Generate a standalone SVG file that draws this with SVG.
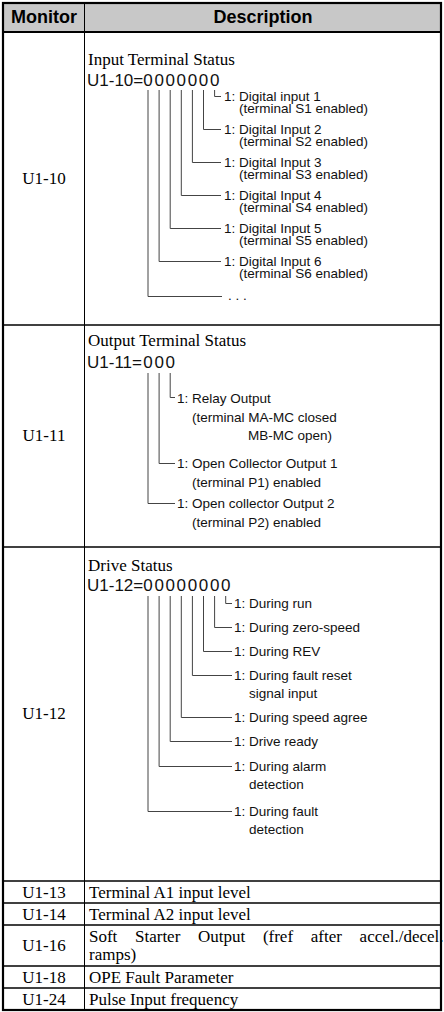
<svg xmlns="http://www.w3.org/2000/svg" width="444" height="1012" viewBox="0 0 444 1012">
<style>
.hd{font-family:"Liberation Sans",Arial,sans-serif;font-weight:bold;font-size:18px;text-anchor:middle;fill:#000}
.mon{font-family:"Liberation Serif","Times New Roman",serif;font-size:17px;text-anchor:middle;fill:#000}
.ds{font-family:"Liberation Serif","Times New Roman",serif;font-size:17px;fill:#000}
.code{font-family:"Liberation Sans",Arial,sans-serif;font-size:17px;fill:#111}
.lbl{font-family:"Liberation Sans",Arial,sans-serif;font-size:13.5px;fill:#111}
.grid{stroke:#000;fill:none}
.cn{stroke:#444;stroke-width:1;fill:none}
</style>
<g id="table">
<rect x="3" y="3" width="438" height="29" fill="#c8c8c8"/>
<line class="grid" x1="84.5" y1="3" x2="84.5" y2="1010" stroke-width="1"/>
<line class="grid" x1="3" y1="32" x2="441" y2="32" stroke-width="2"/>
<line class="grid" x1="3" y1="325" x2="441" y2="325" stroke-width="1.3"/>
<line class="grid" x1="3" y1="547" x2="441" y2="547" stroke-width="1.3"/>
<line class="grid" x1="3" y1="881" x2="441" y2="881" stroke-width="1.3"/>
<line class="grid" x1="3" y1="903" x2="441" y2="903" stroke-width="1.3"/>
<line class="grid" x1="3" y1="925" x2="441" y2="925" stroke-width="1.3"/>
<line class="grid" x1="3" y1="966" x2="441" y2="966" stroke-width="1.3"/>
<line class="grid" x1="3" y1="988" x2="441" y2="988" stroke-width="1.3"/>
<rect class="grid" x="3" y="3" width="438" height="1007" stroke-width="2.2"/>
</g>
<g id="header">
<text class="hd" x="44" y="23">Monitor</text>
<text class="hd" x="263" y="23">Description</text>
</g>
<g id="connectors">
<path class="cn" d="M214.6 90V96.5H221"/>
<path class="cn" d="M203.5 90V129.5H221"/>
<path class="cn" d="M192.4 90V162.5H221"/>
<path class="cn" d="M181.3 90V195.5H221"/>
<path class="cn" d="M170.2 90V228.5H221"/>
<path class="cn" d="M159.1 90V261.5H221"/>
<path class="cn" d="M148 90V296.5H222"/>
<path class="cn" d="M170.2 373V397.5H175"/>
<path class="cn" d="M159.1 373V463.5H175"/>
<path class="cn" d="M148 373V503.5H175"/>
<path class="cn" d="M225.7 596V603.5H232"/>
<path class="cn" d="M214.6 596V627.5H232"/>
<path class="cn" d="M203.5 596V651.5H232"/>
<path class="cn" d="M192.4 596V675.5H232"/>
<path class="cn" d="M181.3 596V717.5H232"/>
<path class="cn" d="M170.2 596V741.5H232"/>
<path class="cn" d="M159.1 596V766.5H232"/>
<path class="cn" d="M148 596V811.5H232"/>
</g>
<g id="U1-10">
<text class="mon" x="44" y="184">U1-10</text>
<text class="ds" x="88" y="65">Input Terminal Status</text>
<text class="code" x="87" y="86">U1-10=<tspan x="143.3 154.4 165.5 176.6 187.7 198.8 209.9">0000000</tspan></text>
<text class="lbl" x="224" y="101">1: Digital input 1</text>
<text class="lbl" x="239" y="113">(terminal S1 enabled)</text>
<text class="lbl" x="224" y="134">1: Digital Input 2</text>
<text class="lbl" x="239" y="146">(terminal S2 enabled)</text>
<text class="lbl" x="224" y="167">1: Digital Input 3</text>
<text class="lbl" x="239" y="179">(terminal S3 enabled)</text>
<text class="lbl" x="224" y="200">1: Digital Input 4</text>
<text class="lbl" x="239" y="212">(terminal S4 enabled)</text>
<text class="lbl" x="224" y="233">1: Digital Input 5</text>
<text class="lbl" x="239" y="245">(terminal S5 enabled)</text>
<text class="lbl" x="224" y="266">1: Digital Input 6</text>
<text class="lbl" x="239" y="278">(terminal S6 enabled)</text>
<text class="lbl" x="228" y="300">. . .</text>
</g>
<g id="U1-11">
<text class="mon" x="44" y="441">U1-11</text>
<text class="ds" x="88" y="346">Output Terminal Status</text>
<text class="code" x="87" y="368">U1-11=<tspan x="143.3 154.4 165.5">000</tspan></text>
<text class="lbl" x="177" y="403">1: Relay Output</text>
<text class="lbl" x="192" y="422">(terminal MA-MC closed</text>
<text class="lbl" x="248" y="440">MB-MC open)</text>
<text class="lbl" x="177" y="468">1: Open Collector Output 1</text>
<text class="lbl" x="192" y="487">(terminal P1) enabled</text>
<text class="lbl" x="177" y="508">1: Open collector Output 2</text>
<text class="lbl" x="192" y="527">(terminal P2) enabled</text>
</g>
<g id="U1-12">
<text class="mon" x="44" y="719">U1-12</text>
<text class="ds" x="88" y="571">Drive Status</text>
<text class="code" x="87" y="591">U1-12=<tspan x="143.3 154.4 165.5 176.6 187.7 198.8 209.9 221">00000000</tspan></text>
<text class="lbl" x="234" y="608">1: During run</text>
<text class="lbl" x="234" y="632">1: During zero-speed</text>
<text class="lbl" x="234" y="656">1: During REV</text>
<text class="lbl" x="234" y="680">1: During fault reset</text>
<text class="lbl" x="249" y="698">signal input</text>
<text class="lbl" x="234" y="722">1: During speed agree</text>
<text class="lbl" x="234" y="746">1: Drive ready</text>
<text class="lbl" x="234" y="771">1: During alarm</text>
<text class="lbl" x="249" y="789">detection</text>
<text class="lbl" x="234" y="816">1: During fault</text>
<text class="lbl" x="249" y="834">detection</text>
</g>
<g id="U1-13">
<text class="mon" x="44" y="898">U1-13</text>
<text class="ds" x="89" y="898">Terminal A1 input level</text>
</g>
<g id="U1-14">
<text class="mon" x="44" y="920">U1-14</text>
<text class="ds" x="89" y="920">Terminal A2 input level</text>
</g>
<g id="U1-16">
<text class="mon" x="44" y="951">U1-16</text>
<text class="ds" y="942"><tspan x="89">Soft</tspan><tspan x="135">Starter</tspan><tspan x="198">Output</tspan><tspan x="262.9">(fref</tspan><tspan x="310.8">after</tspan><tspan x="359.6">accel./decel.</tspan></text>
<text class="ds" x="89" y="960">ramps)</text>
</g>
<g id="U1-18">
<text class="mon" x="44" y="983">U1-18</text>
<text class="ds" x="89" y="983">OPE Fault Parameter</text>
</g>
<g id="U1-24">
<text class="mon" x="44" y="1005">U1-24</text>
<text class="ds" x="89" y="1005">Pulse Input frequency</text>
</g>
</svg>
